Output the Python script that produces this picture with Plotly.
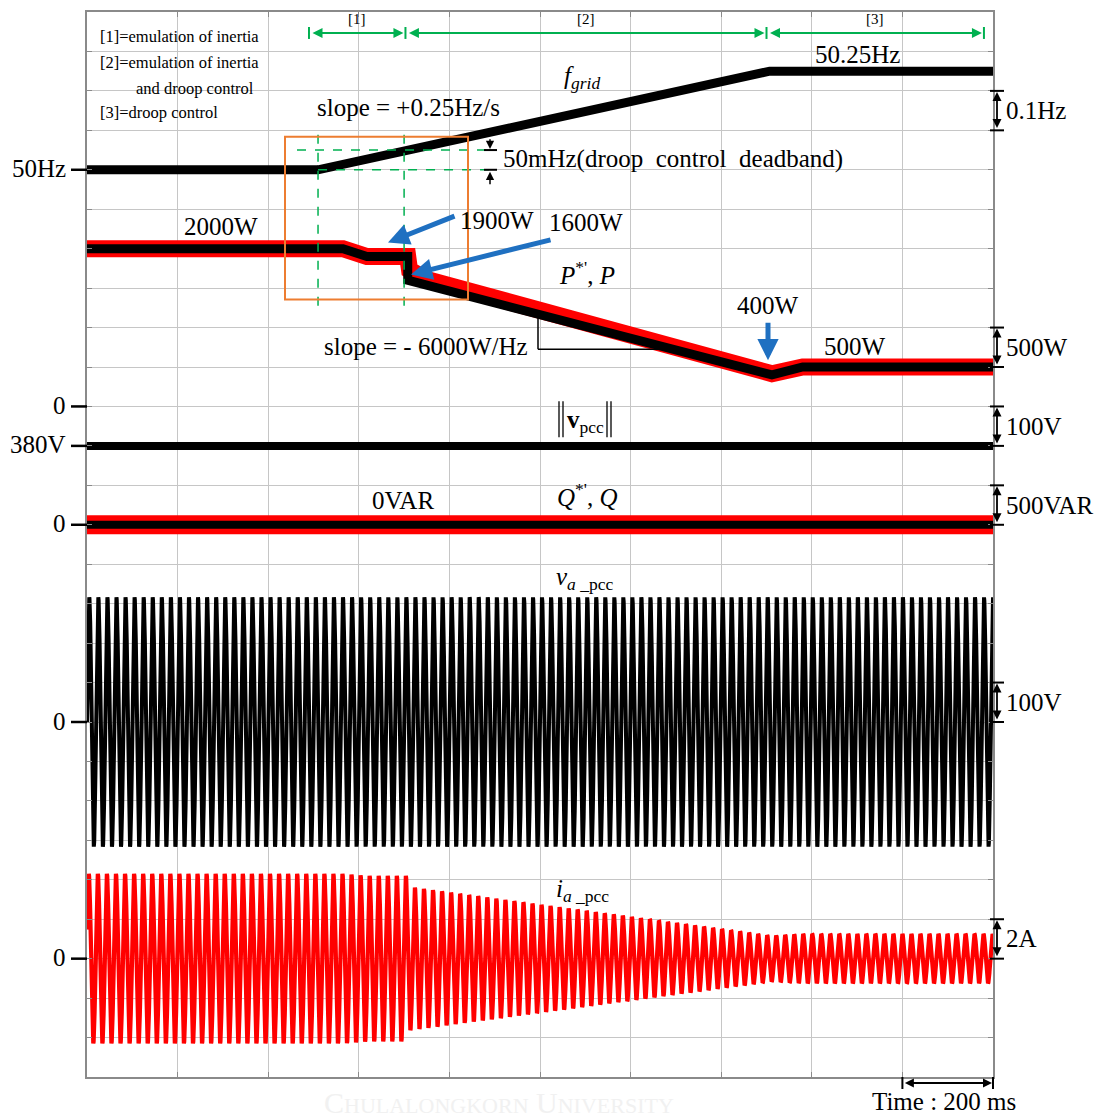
import numpy as np
import plotly.graph_objects as go

SERIF = "Liberation Serif, Times New Roman, serif"

# ---- time base: 10 divisions x 200 ms ----
T_SPAN = [0.0, 2.0]
T_DIV = 0.2
N_VDIV = 27  # vertical divisions shared by all channels

# ---- grid frequency (Hz) ----
freq_t = [0.0, 0.51, 1.507, 2.0]
freq_hz = [50.0, 50.0, 50.25, 50.25]

# ---- active power: measured P and reference P*' (W) ----
p_t = [0.0, 0.565, 0.618, 0.708, 0.708, 1.512, 1.58, 2.0]
p_w = [2000, 2000, 1900, 1900, 1600, 400, 500, 500]
pref_t = [0.0, 0.565, 0.618, 0.708, 0.712, 0.75, 1.512, 1.58, 2.0]
pref_w = [2000, 2000, 1900, 1900, 1730, 1610, 415, 500, 500]

# ---- PCC voltage magnitude (V) and reactive power (VAR) ----
vnorm_t = [0.0, 2.0]
vnorm_v = [380, 380]
q_t = [0.0, 2.0]
q_var = [0, 0]
qref_var = [0, 0]

# ---- phase-a voltage / current peak envelopes ----
va_peak_t = [0.0, 2.0]
va_peak_v = [316, 316]
ia_peak_t = [0.0, 0.565, 0.618, 0.708, 0.708, 1.512, 1.58, 2.0]
ia_peak_a = [4.3, 4.3, 4.2, 4.2, 3.65, 1.16, 1.25, 1.25]

# channel -> (reference value, division it sits on, units per division)
channels = {
    "f": (50.0, 23, 0.1),
    "p": (0.0, 17, 500.0),
    "vn": (380.0, 16, 100.0),
    "q": (0.0, 14, 500.0),
    "va": (0.0, 9, 100.0),
    "ia": (0.0, 3, 2.0),
}


def to_div(ch, values):
    """Scope-style vertical position: channel offset plus value / (units per division)."""
    ref, d, s = channels[ch]
    return d + (np.asarray(values, dtype=float) - ref) / s


# ---- sampled waveforms for the phase-a traces ----
t = np.linspace(T_SPAN[0], T_SPAN[1], 12001)
f_inst = np.interp(t, freq_t, freq_hz)
phase = 2 * np.pi * np.concatenate([[0.0], np.cumsum(0.5 * (f_inst[1:] + f_inst[:-1]) * np.diff(t))])
va = np.interp(t, va_peak_t, va_peak_v) * np.sin(phase)
ia = np.interp(t, ia_peak_t, ia_peak_a) * np.sin(phase + 0.35)

RED = "#ff0000"
BLACK = "#000000"

fig = go.Figure()


def add(x, y, ch, color, width):
    fig.add_trace(go.Scatter(x=x, y=to_div(ch, y), mode="lines",
                             line=dict(color=color, width=width), hoverinfo="skip"))


add(freq_t, freq_hz, "f", BLACK, 9)
add(pref_t, pref_w, "p", RED, 17)
add(p_t, p_w, "p", BLACK, 9)
add(vnorm_t, vnorm_v, "vn", BLACK, 8)
add(q_t, qref_var, "q", RED, 19)
add(q_t, q_var, "q", BLACK, 8)
add(t, va, "va", BLACK, 4)
add(t, ia, "ia", RED, 4.2)

# ---- frame / graticule ----
L, R, T, B = 87, 993, 10, 1077
DIV = (B - T) / N_VDIV
GRID = "#c6c6c6"
FRAME = "#8a8a8a"
common = dict(showgrid=True, gridcolor=GRID, gridwidth=1, showline=True, linecolor=FRAME,
              linewidth=1.5, mirror="ticks", ticks="inside", ticklen=5, tickcolor=FRAME,
              showticklabels=False, zeroline=False, fixedrange=True)

fig.update_layout(
    width=1106, height=1118,
    margin=dict(l=L, r=1106 - R, t=T, b=1118 - B, pad=0),
    plot_bgcolor="white", paper_bgcolor="white", showlegend=False,
    xaxis=dict(range=T_SPAN, dtick=T_DIV, tick0=0, **common),
    yaxis=dict(range=[0, N_VDIV], dtick=1, tick0=0, **common),
)


def X(px):
    return (px - L) / (R - L)


def Y(py):
    return (B - py) / (B - T)


def chan_y(ch, v):
    return B - float(to_div(ch, v)) * DIV


def t_x(tv):
    return L + (tv - T_SPAN[0]) / (T_SPAN[1] - T_SPAN[0]) * (R - L)


annotations = []
shapes = []


def text(s, x, y, size=25, anchor="left", color=BLACK):
    annotations.append(dict(text=s, x=X(x), y=Y(y), xref="paper", yref="paper", xanchor=anchor,
                            yanchor="middle", showarrow=False,
                            font=dict(family=SERIF, size=size, color=color)))


def arrow(x0, y0, x1, y1, color=BLACK, width=1.5, size=1.2, both=False):
    annotations.append(dict(text="", x=X(x1), y=Y(y1), xref="paper", yref="paper",
                            ax=x0 - x1, ay=y0 - y1, axref="pixel", ayref="pixel", showarrow=True,
                            arrowcolor=color, arrowwidth=width, arrowhead=2, arrowsize=size,
                            arrowside="end+start" if both else "end", startarrowhead=2,
                            startarrowsize=size, standoff=0, startstandoff=0))


def seg(x0, y0, x1, y1, color=BLACK, width=1.5, dash=None):
    shapes.append(dict(type="line", xref="paper", yref="paper", x0=X(x0), y0=Y(y0), x1=X(x1), y1=Y(y1),
                       line=dict(color=color, width=width, dash=dash), layer="above"))


# legend box for the operating modes
shapes.append(dict(type="rect", xref="paper", yref="paper", x0=X(92), x1=X(263), y0=Y(22), y1=Y(124),
                   fillcolor="white", line=dict(width=0), layer="between"))
text("[1]=emulation of inertia", 98, 35, 16.5)
text("[2]=emulation of inertia", 98, 61, 16.5)
text("and droop control", 134, 87, 16.5)
text("[3]=droop control", 98, 111, 16.5)

# mode intervals along the top
GREEN = "#00b050"
mode_edges = [0.490, 0.703, 1.5, 1.98]
edge_px = [t_x(v) for v in mode_edges]
for i, name in enumerate(["[1]", "[2]", "[3]"]):
    a, b = edge_px[i] + 2, edge_px[i + 1] - 2
    arrow(a, 31, b, 31, GREEN, 2, 1.0, both=True)
    text(name, (a + b) / 2, 17, 15, "center")
for e in edge_px:
    seg(e, 25, e, 37, GREEN, 2)

# frequency annotations
text("50.25Hz", 857, 53, 25, "center")
text("<i>f<sub>grid</sub></i>", 582, 76, 25, "center")
text("slope = +0.25Hz/s", 315, 106, 25)
text("50mHz(droop\u00a0 control\u00a0 deadband)", 501, 157, 25)
y50, y5005 = chan_y("f", 50.0), chan_y("f", 50.05)
seg(297, y5005, 490, y5005, GREEN, 1.5, "dash")
seg(t_x(0.51), y50, 490, y50, GREEN, 1.5, "dash")
for tv in (0.51, 0.70):
    seg(t_x(tv), 133, t_x(tv), 312, GREEN, 1.5, "dash")
seg(484, y5005, 497, y5005, BLACK, 2)
seg(484, y50, 497, y50, BLACK, 2)
arrow(490, 136, 490, y5005 - 1, BLACK, 1.5, 1.1)
arrow(490, 184, 490, y50 + 2, BLACK, 1.5, 1.1)

# zoom box
shapes.append(dict(type="rect", xref="paper", yref="paper", x0=X(285), x1=X(468), y0=Y(135), y1=Y(298),
                   line=dict(color="#ed7d31", width=2), layer="above"))

# power annotations
BLUE = "#1f70c1"
text("2000W", 221, 225, 25, "center")
text("1900W", 458, 219, 25)
text("1600W", 547, 221, 25)
arrow(456, 214, 388, 241, BLUE, 5, 0.85)
arrow(552, 238, 411, 273, BLUE, 5, 0.85)
text("<i>P</i><sup>*'</sup>, <i>P</i>", 557, 271, 25)
text("slope = - 6000W/Hz", 322, 345, 25)
seg(538, 316, 538, 348, BLACK, 1.5)
seg(538, 348, 658, 348, BLACK, 1.5)
text("400W", 768, 304, 25, "center")
arrow(768, 320, 768, 359, BLUE, 5, 0.85)
text("500W", 855, 345, 25, "center")

# voltage magnitude / reactive power
for xb in (559, 563, 607, 611):
    seg(xb, 400, xb, 436, BLACK, 1.3)
text("<b>v</b><sub>pcc</sub>", 585, 420, 25, "center")
text("0VAR", 403, 499, 25, "center")
text("<i>Q</i><sup>*'</sup>, <i>Q</i>", 555, 494, 25)
text("<i>v</i><sub><i>a</i> _pcc</sub>", 585, 578, 25, "center")
text("<i>i</i><sub><i>a</i> _pcc</sub>", 582, 890, 25, "center")

# left-hand reference levels
left_marks = [("f", 50.0, "50Hz"), ("p", 0.0, "0"), ("vn", 380.0, "380V"),
              ("q", 0.0, "0"), ("va", 0.0, "0"), ("ia", 0.0, "0")]
for ch, v, lab in left_marks:
    yy = chan_y(ch, v)
    seg(71, yy, L, yy, BLACK, 2.5)
    text(lab, 68, yy - 1, 25, "right")

# right-hand scale bars (one division each)
right_marks = [("f", 50.1, 50.2, "0.1Hz"), ("p", 500, 1000, "500W"), ("vn", 380, 480, "100V"),
               ("q", 0, 500, "500VAR"), ("va", 0, 100, "100V"), ("ia", 0, 2, "2A")]
for ch, v0, v1, lab in right_marks:
    ya, yb = chan_y(ch, v0), chan_y(ch, v1)
    seg(990, ya, 1004, ya, BLACK, 2)
    seg(990, yb, 1004, yb, BLACK, 2)
    arrow(997, ya - 1, 997, yb + 1, BLACK, 1.8, 1.0, both=True)
    text(lab, 1004, (ya + yb) / 2, 25)

# time scale bar
x200 = t_x(1.8)
seg(x200, 1077, x200, 1089, BLACK, 2)
seg(R, 1077, R, 1089, BLACK, 2)
arrow(x200 + 1, 1083, R - 1, 1083, BLACK, 1.8, 1.0, both=True)
text("Time : 200 ms", 944, 1102, 25, "center")

text("C<span style='font-size:22px'>HULALONGKORN</span> U<span style='font-size:22px'>NIVERSITY</span>",
     499, 1103, 30, "center", "#f1f1f1")

fig.update_layout(annotations=annotations, shapes=shapes)
fig.write_html("out.html")
